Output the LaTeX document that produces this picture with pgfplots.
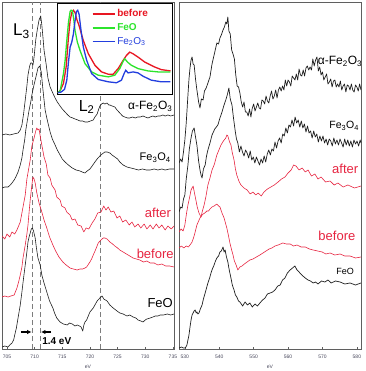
\documentclass[border=0pt]{standalone}
\usepackage{fontspec}
\setmainfont{Liberation Sans}
\usepackage{pgfplots}
\pgfplotsset{compat=1.18}
\usetikzlibrary{arrows.meta}

\definecolor{xred}{RGB}{230,36,64}
\definecolor{ired}{RGB}{232,22,34}
\definecolor{igreen}{RGB}{44,228,44}
\definecolor{iblue}{RGB}{34,62,222}
\definecolor{xdash}{RGB}{125,125,125}
\definecolor{xframe}{RGB}{95,95,95}
\definecolor{xtick}{RGB}{70,70,90}
\definecolor{xblack}{RGB}{30,30,30}

\tikzset{lab/.style={inner sep=0pt, anchor=center}}
\pgfplotsset{
  panel/.style={
    scale only axis,
    anchor=south west,
    height=347pt,
    ymin=0, ymax=347,
    ytick=\empty,
    xtick pos=left,
    tick align=inside,
    major tick length=2pt,
    tick style={xframe, line width=0.5pt},
    axis line style={xframe, line width=0.8pt},
    /pgf/number format/assume math mode=true,
    /pgf/number format/set thousands separator={},
    xticklabel style={font=\fontsize{5}{6}\selectfont, text=xtick, yshift=-2.5pt},
    xlabel={eV},
    xlabel style={font=\fontsize{5}{6}\selectfont, text=xtick, at={(axis description cs:0.5,0)}, anchor=north, yshift=-12.5pt},
    every axis plot/.append style={line join=round},
  },
  blk/.style={xblack, line width=0.6pt},
  rd/.style={xred, line width=0.6pt},
}

\begin{document}
\begin{tikzpicture}
\useasboundingbox (-2pt,-22pt) rectangle (363pt,349pt);

% ---------- left panel: Fe L-edge ----------
\begin{axis}[panel, at={(0pt,0pt)}, width=172pt,
  xmin=704.1, xmax=735.2, xtick={705,710,...,735}]

\addplot[xdash, line width=0.9pt, dash pattern=on 5pt off 3pt] coordinates {(709.6,0) (709.6,347)};
\addplot[xdash, line width=0.9pt, dash pattern=on 5pt off 3pt] coordinates {(711.0,0) (711.0,347)};
\addplot[xdash, line width=0.9pt, dash pattern=on 5pt off 3pt] coordinates {(721.9,0) (721.9,347)};

% alpha-Fe2O3
\addplot[blk] coordinates {
(704.1,214) (704.8,215) (705.5,214) (706.2,215) (707.0,216) (707.4,219) (707.7,224) (708.0,235)
(708.3,249) (708.6,263) (708.8,274) (709.1,283) (709.3,286) (709.5,286) (709.7,284) (709.9,292)
(710.2,309) (710.5,320) (710.8,329) (711.1,333) (711.3,324) (711.5,312) (711.7,299) (712.1,284)
(712.4,271) (712.8,262) (713.2,257) (713.7,251) (714.1,247) (714.6,243) (715.0,240) (715.5,237)
(716.0,234) (716.4,232) (716.9,231) (717.3,230) (717.8,229) (718.2,228) (718.7,228) (719.1,227)
(719.6,227) (720.1,228) (720.6,229) (720.9,232) (721.3,235) (721.6,240) (721.8,243) (722.1,245)
(722.4,246) (722.7,245) (723.1,246) (723.4,244) (723.6,244) (724.0,243) (724.5,242) (724.9,239)
(725.4,236) (725.9,233) (726.3,232) (726.8,231) (727.2,231) (727.7,232) (728.2,231) (728.6,232)
(729.1,232) (729.6,233) (730.0,232) (730.5,231) (730.9,232) (731.4,233) (731.8,232) (732.3,233)
(732.7,233) (733.2,234) (733.6,233) (734.1,234) (734.6,233) (735.2,234)};

% Fe3O4
\addplot[blk] coordinates {
(704.1,161) (704.6,162) (705.2,162) (705.6,164) (705.9,166) (706.3,169) (706.6,172) (707.0,177)
(707.4,184) (707.7,191) (707.9,199) (708.2,209) (708.4,219) (708.7,229) (709.0,239) (709.3,247)
(709.5,254) (709.8,262) (710.1,269) (710.4,276) (710.6,281) (710.9,283) (711.2,277) (711.4,265)
(711.7,249) (711.9,239) (712.2,231) (712.5,224) (712.8,217) (713.2,210) (713.7,204) (714.1,199)
(714.6,194) (715.0,190) (715.5,187) (716.1,184) (716.8,181) (717.5,179) (718.2,178) (718.6,177)
(719.1,176) (719.5,178) (720.0,180) (720.4,183) (720.9,187) (721.3,190) (721.8,193) (722.2,195)
(722.7,197) (723.1,197) (723.6,196) (724.0,194) (724.5,192) (725.0,190) (725.4,187) (726.0,184)
(726.7,182) (727.4,181) (728.1,180) (728.8,179) (729.5,180) (730.2,179) (730.9,179) (731.6,180)
(732.3,179) (733.0,180) (733.6,179) (734.4,180) (735.2,180)};

% after
\addplot[rd] coordinates {
(704.1,113) (704.6,110) (705.0,115) (705.5,112) (705.9,117) (706.4,115) (706.8,119) (707.4,127)
(707.7,136) (708.3,154) (708.6,170) (709.2,189) (709.5,203) (709.9,211) (710.2,218) (710.4,221)
(710.6,219) (710.8,220) (711.1,210) (711.3,204) (711.7,192) (712.1,185) (712.4,174) (712.8,171)
(713.1,164) (713.7,159) (714.0,152) (714.6,149) (714.9,143) (715.5,141) (715.8,137) (716.4,134)
(716.8,129) (717.3,130) (717.8,124) (718.4,123) (718.9,117) (719.3,121) (719.8,120) (720.4,126)
(720.9,130) (721.4,136) (722.0,137) (722.5,143) (722.9,139) (723.3,142) (723.8,137) (724.3,138)
(724.9,131) (725.4,133) (725.9,127) (726.5,129) (727.1,124) (727.6,127) (728.1,122) (728.7,125)
(729.2,121) (729.8,125) (730.3,120) (730.9,124) (731.4,120) (732.0,125) (732.5,121) (733.0,124)
(733.6,119) (734.1,123) (734.7,120) (735.2,123)};

% before
\addplot[rd] coordinates {
(704.1,52) (704.6,53) (705.2,52) (705.7,53) (706.3,54) (706.8,61) (707.1,67) (707.4,74)
(707.7,82) (707.9,91) (708.3,104) (708.6,115) (708.8,124) (709.0,137) (709.2,149) (709.5,164)
(709.7,172) (709.9,170) (710.1,166) (710.4,156) (710.8,146) (711.3,137) (711.7,129) (712.2,121)
(712.7,112) (713.3,104) (713.8,98) (714.4,92) (715.1,87) (715.7,84) (716.4,81) (717.0,80)
(717.7,79) (718.2,80) (718.7,80) (719.1,81) (719.4,82) (720.0,87) (720.3,90) (720.6,94)
(721.0,99) (721.5,106) (722.0,109) (722.4,111) (722.7,111) (723.1,110) (723.6,107) (724.1,105)
(724.5,103) (725.0,101) (725.4,99) (726.0,97) (726.6,95) (727.2,93) (727.8,91) (728.4,90)
(729.0,89) (729.7,87) (730.3,88) (730.9,86) (731.6,86) (732.3,84) (733.0,85) (733.7,83)
(734.4,83) (735.2,82)};

% FeO
\addplot[blk] coordinates {
(704.1,2) (704.6,3) (705.2,2) (705.5,4) (705.9,6) (706.2,9) (706.4,14) (706.7,21)
(707.0,31) (707.4,44) (707.7,57) (708.0,71) (708.3,84) (708.6,97) (708.8,107) (709.0,112)
(709.2,116) (709.4,120) (709.6,121) (709.8,118) (710.1,111) (710.3,102) (710.6,91) (711.0,84)
(711.3,74) (711.7,66) (712.2,57) (712.7,48) (713.3,41) (713.6,36) (714.0,31) (714.6,27)
(715.2,25) (715.9,24) (716.3,26) (716.8,25) (717.3,23) (717.7,24) (718.1,23) (718.4,22)
(718.7,18) (718.9,24) (719.1,27) (719.4,29) (719.7,33) (720.0,37) (720.6,41) (720.9,44)
(721.3,48) (721.8,51) (722.2,53) (722.5,50) (722.8,49) (723.1,48) (723.6,44) (724.2,41)
(724.9,38) (725.4,36) (726.0,35) (726.7,33) (727.2,34) (727.8,32) (728.3,31) (728.7,29)
(729.2,28) (729.6,27) (730.0,29) (730.3,30) (730.9,31) (731.4,32) (731.8,33) (732.3,33)
(732.7,34) (733.3,34) (734.0,35) (734.6,34) (735.2,35)};

\node[lab, font=\fontsize{17}{17}\selectfont] at (axis cs:707.6,318) {L\textsubscript{3}};
\node[lab, font=\fontsize{16}{16}\selectfont] at (axis cs:719.4,242) {L\textsubscript{2}};
\node[lab, font=\fontsize{12}{12}\selectfont] at (axis cs:730.9,243) {α-Fe\textsubscript{2}O\textsubscript{3}};
\node[lab, font=\fontsize{11}{11}\selectfont] at (axis cs:731.8,191) {Fe\textsubscript{3}O\textsubscript{4}};
\node[lab, font=\fontsize{13}{13}\selectfont, text=xred] at (axis cs:732.3,136) {after};
\node[lab, font=\fontsize{13}{13}\selectfont, text=xred] at (axis cs:731.8,95) {before};
\node[lab, font=\fontsize{13}{13}\selectfont] at (axis cs:732.7,46) {FeO};
\node[lab, font=\fontsize{10}{10}\selectfont\bfseries] at (axis cs:714.0,8) {1.4 eV};
\draw[-{Latex[length=4.5pt,width=4.5pt]}, line width=1.1pt] (axis cs:707.5,17) -- (axis cs:709.45,17);
\draw[-{Latex[length=4.5pt,width=4.5pt]}, line width=1.1pt] (axis cs:713.0,17) -- (axis cs:711.15,17);
\end{axis}

% ---------- inset ----------
\begin{axis}[scale only axis, anchor=south west, at={(55pt,255pt)},
  width=115pt, height=91pt,
  xmin=706.2, xmax=733.4, ymin=-2, ymax=274,
  xtick=\empty, ytick=\empty,
  axis line style={black, line width=0.9pt},
  axis background/.style={fill=white},
  legend style={at={(0.30,0.95)}, anchor=north west, draw=none, fill=none,
    font=\fontsize{10}{11.5}\selectfont, inner sep=0pt, row sep=1.2pt,
    legend cell align=left},
  legend image code/.code={\draw[#1, line width=1.6pt] (0pt,0pt) -- (22pt,0pt);},
]
\addplot[ired, line width=1.3pt] coordinates {
(706.4,2) (706.95,8) (707.73,30) (708.36,80) (708.91,170) (709.30,220) (709.69,245) (710.08,252)
(710.47,245) (710.87,225) (711.42,205) (712.43,160) (713.61,120) (715.18,85) (716.74,65) (718.31,58)
(719.48,58) (720.66,75) (721.84,100) (722.62,115) (723.40,125) (724.19,120) (725.36,110) (726.93,95)
(729.28,80) (730.85,72) (733.04,68)};
\addlegendentry{\textcolor{ired}{\bfseries before}}
\addplot[igreen, line width=1.3pt] coordinates {
(706.4,2) (706.95,8) (707.73,60) (708.12,100) (708.52,160) (708.91,215) (709.30,248) (709.53,252)
(709.85,250) (710.16,225) (710.47,190) (711.02,155) (711.65,130) (712.83,90) (714.39,65) (715.96,55)
(718.31,50) (719.88,55) (721.05,75) (721.84,97) (722.23,105) (722.86,95) (723.80,85) (725.36,75)
(727.71,68) (730.06,65) (733.04,65)};
\addlegendentry{\textcolor{igreen}{\bfseries FeO}}
\addplot[iblue, line width=1.3pt] coordinates {
(706.4,2) (707.18,4) (707.97,12) (708.52,40) (708.91,95) (709.30,140) (709.69,155) (710.08,180)
(710.47,220) (710.79,248) (711.10,252) (711.42,240) (711.89,190) (712.43,140) (713.22,100) (714.39,60)
(715.96,42) (718.31,35) (720.27,32) (721.45,40) (722.07,60) (722.47,70) (723.01,62) (724.19,65)
(725.36,62) (726.54,52) (728.50,40) (730.85,35) (733.04,35)};
\addlegendentry{\textcolor{iblue}{Fe\textsubscript{2}O\textsubscript{3}}}
\end{axis}

% ---------- right panel: O K-edge ----------
\begin{axis}[panel, at={(177pt,0pt)}, width=182pt,
  xmin=528.3, xmax=581.2, xtick={530,540,...,580}]

% alpha-Fe2O3
\addplot[blk, line width=0.7pt] coordinates {
(528.3,186) (528.8,190) (529.2,187) (529.6,197) (530.0,209) (530.4,226) (530.9,254) (531.2,270)
(531.5,281) (531.8,289) (532.1,292) (532.4,285) (532.7,284) (533.1,270) (533.5,259) (534.0,247)
(534.4,241) (534.8,250) (535.3,249) (535.7,258) (536.2,261) (536.7,266) (537.3,272) (537.9,285)
(538.5,294) (538.9,300) (539.3,306) (539.8,305) (540.2,311) (540.6,314) (541.1,319) (541.5,322)
(541.9,327) (542.2,325) (542.5,332) (542.8,318)
(543.2,315) (543.6,299) (544.0,295) (544.4,290) (544.8,274) (545.2,263) (545.6,262) (546.0,256)
(546.4,247) (546.8,242) (547.2,247) (547.6,237) (548.0,237) (548.4,233) (548.8,240) (549.2,232)
(549.6,241) (550.0,245) (550.4,238) (550.8,242) (551.2,246) (551.6,241) (552.0,240) (552.4,249)
(552.8,248) (553.2,245) (553.6,253) (554.0,248) (554.4,246) (554.8,253) (555.2,258) (555.6,250)
(556.0,253) (556.4,259) (556.8,251) (557.2,259) (557.6,262) (558.0,258) (558.4,263) (558.8,259)
(559.2,269) (559.6,263) (560.0,269) (560.4,267) (560.8,263) (561.2,273) (561.6,271) (562.0,269)
(562.4,275) (562.8,269) (563.2,280) (563.6,274) (564.0,273) (564.4,279) (564.8,273) (565.2,281)
(565.6,283) (566.0,279) (566.4,282) (566.8,279) (567.2,290) (567.6,283) (568.0,289) (568.4,292)
(568.8,278) (569.2,282) (569.6,274) (570.0,277) (570.4,269) (570.8,272) (571.2,275) (571.6,265)
(572.0,267) (572.4,270) (572.8,262) (573.2,268) (573.6,269) (574.0,262) (574.4,265) (574.8,262)
(575.2,268) (575.6,259) (576.0,263) (576.4,265) (576.8,257) (577.2,264) (577.6,263) (578.0,259)
(578.4,265) (578.8,259) (579.2,257) (579.6,264) (580.0,262) (580.4,258) (580.8,265) (581.2,259)};

% Fe3O4
\addplot[blk, line width=0.7pt] coordinates {
(528.3,137) (528.8,142) (529.2,141) (529.6,150) (530.0,154) (530.4,170) (530.9,184) (531.3,200)
(531.8,211) (532.2,218) (532.7,221) (533.1,212) (533.5,204) (534.0,188) (534.4,179) (534.7,174)
(535.0,171) (535.4,180) (535.9,184) (536.3,193) (536.7,199) (537.3,206) (537.9,214) (538.7,220)
(539.6,224) (540.2,231) (540.8,237) (541.3,243) (541.9,249) (542.4,255) (542.8,261) (543.2,250)
(543.7,244) (544.1,232) (544.6,219) (545.0,210)
(545.4,206) (545.85,197) (546.3,203) (546.75,197) (547.2,193) (547.65,199) (548.1,196) (548.55,191)
(549.0,198) (549.45,189) (549.9,192) (550.35,186) (550.8,192) (551.25,188) (551.7,184) (552.15,190)
(552.6,186) (553.05,193) (553.5,187) (553.95,195) (554.4,199) (554.85,194) (555.3,200) (555.75,198)
(556.2,207) (556.65,201) (557.1,208) (557.55,211) (558.0,206) (558.45,215) (558.9,213) (559.35,221)
(559.8,216) (560.25,224) (560.7,222) (561.15,229) (561.6,223) (562.05,232) (562.5,226) (562.95,229)
(563.4,222) (563.85,228) (564.3,221) (564.75,225) (565.2,217) (565.65,223) (566.1,216) (566.55,218)
(567.0,211) (567.45,218) (567.9,212) (568.35,215) (568.8,207) (569.25,213) (569.7,208) (570.15,213)
(570.6,206) (571.05,210) (571.5,204) (571.95,210) (572.4,208) (572.85,203) (573.3,211) (573.75,205)
(574.2,209) (574.65,204) (575.1,210) (575.55,206) (576.0,202) (576.45,210) (576.9,204) (577.35,209)
(577.8,203) (578.25,208) (578.7,202) (579.15,209) (579.6,205) (580.05,208) (580.5,203) (580.95,209)
(581.2,206)};

% after
\addplot[rd] coordinates {
(528.3,117) (528.9,120) (529.5,118) (530.0,124) (530.5,136) (530.9,144) (531.4,152) (531.8,159)
(532.1,161) (532.4,163) (532.8,156) (533.2,149) (533.6,142) (534.1,136) (534.4,134) (534.7,132)
(535.1,138) (535.6,144) (536.1,152) (536.7,164) (537.3,171) (537.9,179) (538.6,185) (539.3,194)
(539.9,199) (540.5,204) (541.2,208) (541.9,211) (542.2,214) (542.5,213) (543.0,207) (543.4,204)
(543.8,196) (544.3,189) (544.7,180) (545.1,174) (545.7,168) (546.3,164) (547.2,161) (548.1,159)
(549.0,155) (549.8,157) (550.6,154) (551.3,156) (552.2,153) (553.0,157) (554.0,160) (555.0,162)
(556.0,164) (557.1,167) (558.1,170) (559.1,172) (560.0,176) (560.9,179) (561.6,184) (562.3,183)
(563.2,179) (564.1,181) (565.0,177) (565.8,179) (566.8,173) (567.8,175) (568.7,170) (569.6,172)
(570.9,167) (572.2,168) (573.4,164) (574.5,166) (576.0,162) (577.4,164) (579.3,161) (581.2,163)};

% before
\addplot[rd] coordinates {
(528.3,101) (529.0,103) (529.7,101) (530.4,103) (531.0,102) (531.5,104) (532.1,107) (532.6,112)
(533.0,117) (533.5,124) (534.0,128) (534.4,131) (534.8,133) (535.3,135) (535.8,136) (536.4,138)
(536.9,138) (537.3,140) (537.9,142) (538.5,143) (538.9,144) (539.3,145) (539.8,143) (540.2,142)
(540.8,136) (541.4,131) (541.8,126) (542.2,121) (542.7,113) (543.1,106) (543.6,99) (544.0,94)
(544.4,88) (544.9,84) (545.4,79) (546.0,82) (546.6,83) (547.3,85) (548.1,87) (548.9,89)
(549.8,90) (550.8,92) (551.8,94) (552.7,96) (553.6,98) (554.5,100) (555.3,101) (556.2,103)
(557.1,104) (557.8,105) (558.5,106) (559.5,105) (560.6,105) (561.6,103) (562.6,104) (563.8,102)
(565.0,102) (566.2,100) (567.3,99) (568.6,98) (569.9,97) (571.0,95) (572.2,96) (573.6,94)
(575.1,95) (576.5,93) (578.0,93) (579.6,91) (581.2,92)};

% FeO
\addplot[blk, line width=0.7pt] coordinates {
(528.3,1) (529.0,2) (529.6,1) (530.0,1) (530.3,2) (530.6,4) (530.9,9) (531.2,14)
(531.5,22) (531.8,29) (532.1,34) (532.4,36) (532.7,38) (533.0,39) (533.3,36) (533.5,37)
(533.8,35) (534.1,36) (534.5,40) (535.0,44) (535.4,50) (535.9,56) (536.3,61) (536.7,66)
(537.2,71) (537.6,76) (538.0,80) (538.5,84) (538.9,88) (539.3,91) (539.8,93) (540.2,97)
(540.6,98) (541.1,102) (541.4,97) (541.7,99) (542.1,92) (542.5,87) (542.9,79) (543.4,71)
(543.8,64) (544.3,59) (544.7,54) (545.1,52) (545.6,48) (546.0,47) (546.8,43) (547.5,47)
(548.2,44) (548.9,46) (549.6,42) (550.4,45) (551.1,43) (551.8,46) (552.6,49) (553.3,51)
(554.0,55) (554.8,56) (555.5,57) (556.2,59) (557.0,63) (557.7,64) (558.4,69) (559.1,71)
(559.8,76) (560.6,79) (561.3,81) (562.0,83) (562.6,79) (563.2,77) (563.7,75) (564.3,73)
(565.0,71) (565.8,69) (566.5,68) (567.3,66) (568.0,67) (568.7,65) (569.7,68) (570.7,67)
(571.6,69) (572.5,66) (573.8,68) (575.1,67) (576.5,65) (578.0,66) (579.6,64) (581.2,66)};

\node[lab, font=\fontsize{12}{12}\selectfont] at (axis cs:575.1,288) {α-Fe\textsubscript{2}O\textsubscript{3}};
\node[lab, font=\fontsize{10.5}{10.5}\selectfont] at (axis cs:576.3,223) {Fe\textsubscript{3}O\textsubscript{4}};
\node[lab, font=\fontsize{13}{13}\selectfont, text=xred] at (axis cs:576.6,180) {after};
\node[lab, font=\fontsize{13}{13}\selectfont, text=xred] at (axis cs:574.2,113) {before};
\node[lab, font=\fontsize{9}{9}\selectfont] at (axis cs:576.6,78) {FeO};
\end{axis}
\end{tikzpicture}
\end{document}
